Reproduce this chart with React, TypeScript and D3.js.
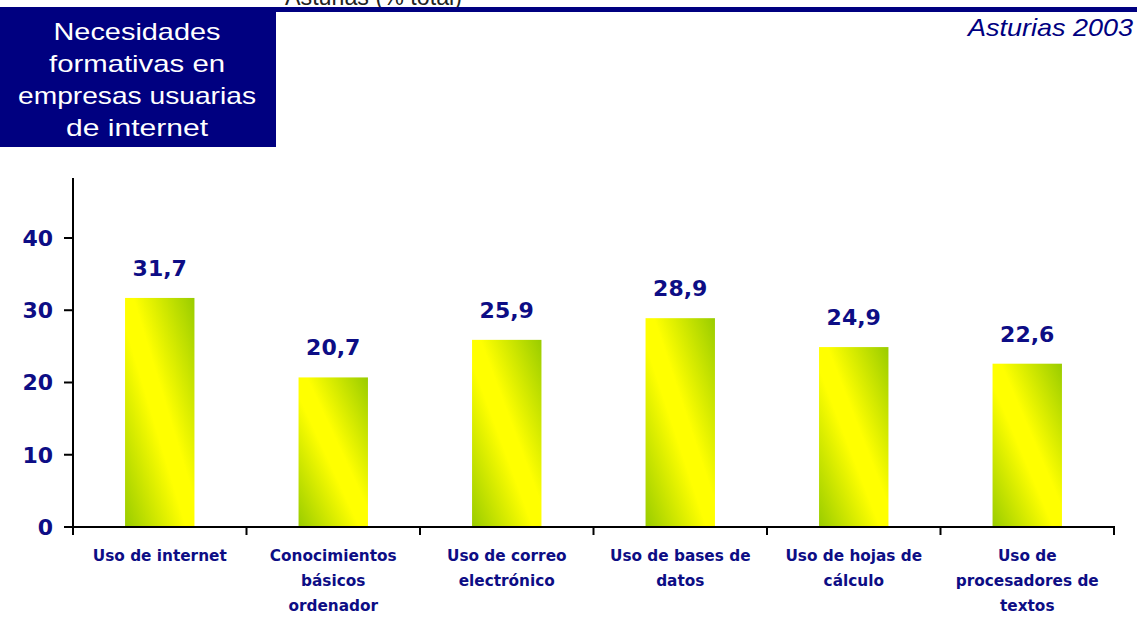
import React from "react";
import * as d3 from "d3";

const categories: string[][] = [
  ["Uso de internet"],
  ["Conocimientos", "básicos", "ordenador"],
  ["Uso de correo", "electrónico"],
  ["Uso de bases de", "datos"],
  ["Uso de hojas de", "cálculo"],
  ["Uso de", "procesadores de", "textos"],
];
const values: number[] = [31.7, 20.7, 25.9, 28.9, 24.9, 22.6];
const valueLabels: string[] = ["31,7", "20,7", "25,9", "28,9", "24,9", "22,6"];
const yTicks: number[] = [0, 10, 20, 30, 40];
const titleLines: string[] = ["Necesidades", "formativas en", "empresas usuarias", "de internet"];
const titleWidths: number[] = [167, 176, 238, 142];

const W = 1137;
const H = 626;
const NAVY = "#000080";
const TEXT = "#0d0d85";

export default function App() {
  const keys = categories.map((_, i) => String(i));
  const x = d3.scaleBand<string>().domain(keys).range([73, 1114]).padding(0);
  const y = d3.scaleLinear().domain([0, 48.3]).range([527, 178]);
  const bw = x.bandwidth() * 0.4;
  const boundaries = keys.map((k) => x(k) as number).concat([x.range()[1]]);

  return (
    <svg
      width={W}
      height={H}
      style={{ position: "absolute", left: 0, top: 0, background: "#fff" }}
      fontFamily="'DejaVu Sans', Verdana, sans-serif"
    >
      <defs>
        <linearGradient id="barGrad" x1="0" y1="1" x2="1" y2="0">
          <stop offset="0" stopColor="#99CC00" />
          <stop offset="0.44" stopColor="#FFFF00" />
          <stop offset="0.56" stopColor="#FFFF00" />
          <stop offset="1" stopColor="#99CC00" />
        </linearGradient>
      </defs>
      <rect x={0} y={0} width={W} height={H} fill="#fff" />

      {/* clipped top subtitle */}
      <text
        x={285}
        y={5}
        fontFamily="'Liberation Sans', Arial, sans-serif"
        fontSize={23}
        fill="#222"
        textLength={177}
        lengthAdjust="spacingAndGlyphs"
      >
        Asturias (% total)
      </text>

      {/* header line and title box */}
      <rect x={0} y={7} width={W} height={5} fill={NAVY} />
      <rect x={0} y={7} width={276} height={140} fill={NAVY} />
      {titleLines.map((t, i) => (
        <text
          key={t}
          x={137}
          y={40 + i * 32}
          textAnchor="middle"
          fontFamily="'Liberation Sans', Arial, sans-serif"
          fontSize={24}
          fill="#fff"
          textLength={titleWidths[i]}
          lengthAdjust="spacingAndGlyphs"
        >
          {t}
        </text>
      ))}
      <text
        x={1133}
        y={36}
        textAnchor="end"
        fontFamily="'Liberation Sans', Arial, sans-serif"
        fontStyle="italic"
        fontSize={24}
        fill={NAVY}
        textLength={165}
        lengthAdjust="spacingAndGlyphs"
      >
        Asturias 2003
      </text>

      {/* bars */}
      {values.map((v, i) => {
        const cx = (x(keys[i]) as number) + x.bandwidth() / 2;
        return (
          <g key={i}>
            <rect x={cx - bw / 2} y={y(v)} width={bw} height={y(0) - y(v)} fill="url(#barGrad)" />
            <text
              x={cx}
              y={y(v) - 22}
              textAnchor="middle"
              fontWeight="bold"
              fontSize={22}
              fill={TEXT}
            >
              {valueLabels[i]}
            </text>
          </g>
        );
      })}

      {/* y axis */}
      <line x1={73} x2={73} y1={178} y2={y(0)} stroke="#000" strokeWidth={2} />
      {yTicks.map((t) => (
        <g key={t}>
          <line x1={64} x2={73} y1={y(t)} y2={y(t)} stroke="#000" strokeWidth={2} />
          <text
            x={53}
            y={y(t) + 8}
            textAnchor="end"
            fontWeight="bold"
            fontSize={22}
            fill={TEXT}
          >
            {t}
          </text>
        </g>
      ))}

      {/* x axis */}
      <line x1={64} x2={x.range()[1] + 1} y1={y(0)} y2={y(0)} stroke="#000" strokeWidth={2} />
      {boundaries.map((b, i) => (
        <line key={i} x1={b} x2={b} y1={y(0)} y2={y(0) + 8} stroke="#000" strokeWidth={2} />
      ))}
      {categories.map((lines, i) => {
        const cx = (x(keys[i]) as number) + x.bandwidth() / 2;
        return (
          <text key={i} textAnchor="middle" fontWeight="bold" fontSize={15.3} fill={TEXT}>
            {lines.map((l, j) => (
              <tspan key={j} x={cx} y={561 + j * 25}>
                {l}
              </tspan>
            ))}
          </text>
        );
      })}
    </svg>
  );
}
